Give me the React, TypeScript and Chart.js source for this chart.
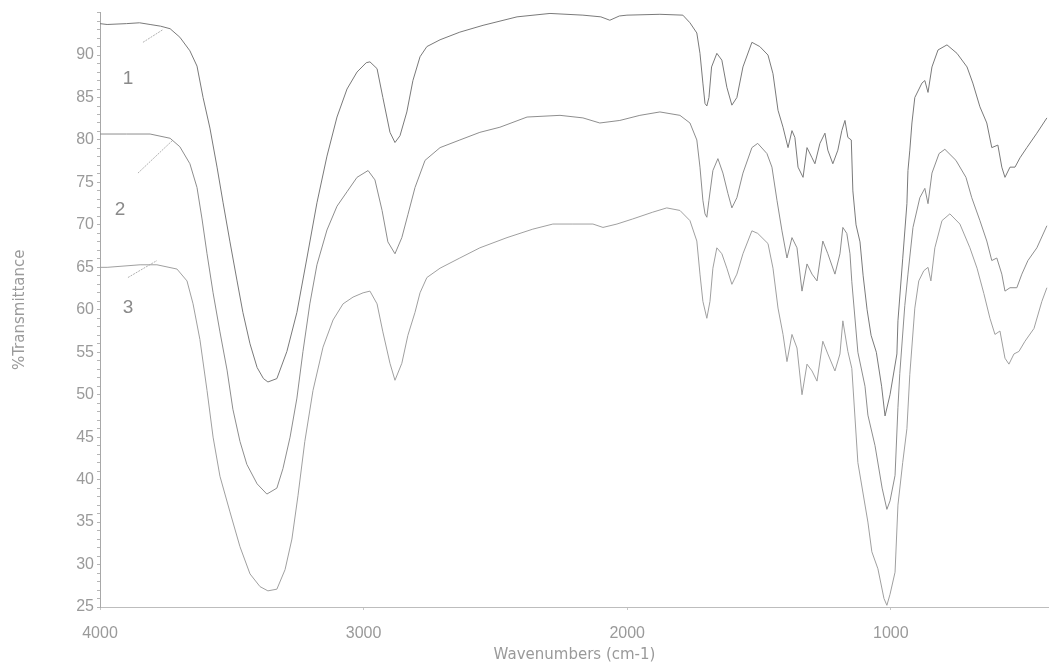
import { useEffect, useRef } from "react";
import { Chart, registerables } from "chart.js";

Chart.register(...registerables);

// ---- Data (wavenumber cm-1, %Transmittance) ----
const wn1 = [4000, 3973, 3900, 3850, 3810, 3770, 3734, 3697, 3659, 3632, 3609, 3583, 3556, 3533, 3507, 3480, 3458, 3431, 3404, 3380, 3363, 3329, 3291, 3253, 3215, 3177, 3139, 3101, 3063, 3025, 2990, 2976, 2949, 2927, 2900, 2881, 2862, 2836, 2813, 2786, 2760, 2710, 2635, 2547, 2418, 2293, 2168, 2100, 2066, 2030, 2001, 1876, 1789, 1762, 1736, 1724, 1713, 1705, 1698, 1690, 1680, 1660, 1641, 1622, 1603, 1584, 1561, 1527, 1497, 1466, 1447, 1428, 1409, 1390, 1375, 1364, 1352, 1333, 1318, 1299, 1288, 1269, 1250, 1239, 1220, 1201, 1186, 1174, 1163, 1150, 1144, 1132, 1117, 1105, 1090, 1075, 1055, 1035, 1022, 1003, 977, 973, 955, 939, 935, 928, 920, 909, 882, 871, 859, 844, 821, 787, 749, 711, 689, 662, 636, 617, 594, 579, 567, 548, 529, 510, 484, 446, 408];
const t1 = [93.7, 93.6, 93.7, 93.8, 93.6, 93.4, 93.1, 92.1, 90.5, 88.7, 85.0, 81.4, 76.8, 72.6, 68.0, 63.4, 59.7, 56.0, 53.2, 51.9, 51.5, 51.9, 55.1, 59.7, 66.1, 72.6, 78.1, 82.7, 86.0, 88.0, 89.1, 89.2, 88.4, 85.0, 80.9, 79.7, 80.5, 83.3, 87.0, 89.8, 91.0, 91.8, 92.7, 93.5, 94.5, 94.9, 94.7, 94.5, 94.1, 94.6, 94.7, 94.8, 94.7, 93.8, 92.6, 90.2, 86.7, 84.3, 84.0, 85.0, 88.6, 90.2, 89.4, 86.2, 84.1, 85.0, 88.6, 91.5, 91.0, 90.0, 87.8, 83.5, 81.5, 79.1, 81.1, 80.3, 76.8, 75.6, 79.1, 77.9, 77.2, 79.6, 80.8, 78.8, 77.2, 78.8, 81.1, 82.3, 80.3, 80.0, 74.0, 70.0, 68.0, 64.0, 60.0, 57.0, 55.0, 51.0, 47.5, 50.0, 54.8, 58.7, 66.0, 72.5, 76.4, 78.8, 82.0, 85.0, 86.7, 87.0, 85.6, 88.6, 90.6, 91.2, 90.2, 88.6, 86.7, 83.9, 82.0, 79.1, 79.4, 76.8, 75.6, 76.8, 76.8, 77.9, 79.1, 80.8, 82.6];

const wn2 = [4000, 3900, 3810, 3734, 3697, 3659, 3632, 3613, 3594, 3571, 3545, 3518, 3496, 3469, 3443, 3404, 3367, 3329, 3306, 3279, 3253, 3230, 3204, 3177, 3139, 3101, 3063, 3025, 2983, 2957, 2930, 2908, 2881, 2855, 2832, 2805, 2767, 2710, 2635, 2559, 2483, 2380, 2255, 2168, 2104, 2028, 1952, 1876, 1800, 1762, 1736, 1724, 1713, 1705, 1698, 1690, 1675, 1656, 1637, 1618, 1603, 1584, 1561, 1527, 1505, 1470, 1451, 1432, 1413, 1394, 1375, 1356, 1337, 1318, 1299, 1280, 1258, 1239, 1212, 1193, 1182, 1167, 1155, 1148, 1125, 1098, 1087, 1060, 1033, 1015, 1003, 984, 973, 966, 947, 935, 916, 890, 871, 859, 844, 817, 795, 753, 715, 693, 662, 636, 617, 598, 579, 567, 548, 522, 503, 480, 446, 408];
const t2 = [80.7, 80.7, 80.7, 80.2, 79.2, 77.2, 74.4, 70.7, 66.6, 62.0, 57.4, 52.9, 48.3, 44.5, 41.8, 39.5, 38.3, 39.0, 41.3, 45.0, 49.6, 55.1, 60.7, 65.3, 69.4, 72.2, 73.9, 75.6, 76.4, 75.3, 71.7, 68.0, 66.6, 68.5, 71.2, 74.4, 77.6, 79.1, 80.0, 80.9, 81.5, 82.7, 82.9, 82.6, 82.0, 82.3, 82.9, 83.3, 82.9, 82.0, 80.0, 76.8, 72.9, 71.3, 70.9, 72.9, 76.4, 77.8, 76.1, 73.7, 72.0, 73.2, 76.1, 79.1, 79.6, 78.4, 76.8, 72.9, 69.3, 66.1, 68.5, 67.3, 62.2, 65.4, 64.2, 63.4, 68.1, 66.6, 64.2, 66.6, 69.7, 69.0, 66.6, 63.3, 55.0, 51.0, 47.6, 44.0, 39.0, 36.5, 37.5, 40.5, 48.5, 52.5, 60.5, 64.2, 69.7, 73.2, 74.3, 72.5, 76.1, 78.4, 78.9, 77.6, 75.6, 73.2, 70.5, 68.1, 65.8, 66.1, 64.2, 62.2, 62.6, 62.6, 64.2, 65.8, 67.3, 69.9];

const wn3 = [4000, 3973, 3848, 3784, 3708, 3670, 3647, 3621, 3594, 3571, 3545, 3507, 3469, 3431, 3393, 3363, 3329, 3298, 3272, 3249, 3223, 3192, 3154, 3116, 3078, 3040, 3002, 2976, 2949, 2927, 2900, 2881, 2855, 2832, 2805, 2786, 2760, 2710, 2635, 2559, 2456, 2358, 2282, 2206, 2130, 2092, 2039, 1979, 1903, 1850, 1800, 1762, 1736, 1724, 1713, 1698, 1686, 1675, 1660, 1641, 1622, 1603, 1584, 1561, 1527, 1505, 1466, 1447, 1428, 1409, 1394, 1375, 1356, 1337, 1318, 1299, 1280, 1258, 1239, 1212, 1193, 1182, 1163, 1148, 1125, 1087, 1072, 1049, 1026, 1015, 1003, 984, 973, 955, 939, 928, 909, 894, 875, 859, 848, 833, 806, 776, 738, 700, 673, 647, 624, 605, 586, 567, 552, 533, 514, 491, 457, 427, 408];
const t3 = [65.0, 65.0, 65.3, 65.3, 64.8, 63.4, 60.7, 56.5, 50.5, 45.0, 40.4, 36.2, 32.1, 28.9, 27.4, 26.9, 27.1, 29.4, 33.0, 38.1, 44.5, 50.5, 55.6, 58.8, 60.7, 61.5, 62.0, 62.2, 60.7, 57.4, 53.7, 51.7, 53.7, 57.0, 59.7, 62.0, 63.8, 64.9, 66.1, 67.3, 68.5, 69.5, 70.1, 70.1, 70.1, 69.7, 70.1, 70.7, 71.5, 72.0, 71.7, 70.5, 68.1, 64.2, 61.0, 59.0, 61.0, 64.9, 67.3, 66.6, 64.9, 63.0, 64.2, 66.6, 69.3, 69.0, 67.8, 64.9, 60.2, 57.1, 53.9, 57.1, 55.5, 50.0, 53.6, 52.8, 51.6, 56.3, 54.8, 52.8, 54.8, 58.7, 55.1, 53.1, 42.0, 35.0, 31.5, 29.5, 26.0, 25.2, 26.5, 29.1, 37.0, 42.0, 46.0, 52.4, 60.2, 63.4, 64.6, 65.0, 63.4, 67.3, 70.5, 71.3, 70.1, 67.3, 64.9, 61.9, 59.0, 57.1, 57.5, 54.3, 53.6, 54.8, 55.1, 56.3, 57.8, 61.0, 62.6];

// curve labels and pointer strokes (data coordinates)
const curveLabels = ["1", "2", "3"];
const labelWn = [3894, 3924, 3894];
const labelT = [87.2, 71.8, 60.2];
const pointerWnStart = [3837, 3856, 3894];
const pointerTStart = [91.5, 76.1, 63.8];
const pointerWnEnd = [3761, 3723, 3784];
const pointerTEnd = [93.0, 80.0, 65.8];

const xTicks = [4000, 3000, 2000, 1000];
const yLabelled = [25, 30, 35, 40, 45, 50, 55, 60, 65, 70, 75, 80, 85, 90];

const seriesColors = ["#7a7a7a", "#8e8e8e", "#a0a0a0"];

function toPts(xs: number[], ys: number[]) {
  return xs.map((x, i) => ({ x, y: ys[i] }));
}

export default function App() {
  const ref = useRef<HTMLCanvasElement | null>(null);

  useEffect(() => {
    if (!ref.current) return;
    const series = [
      [wn1, t1],
      [wn2, t2],
      [wn3, t3],
    ];
    const datasets: any[] = series.map(([xs, ys], i) => ({
      label: "Curve " + (i + 1),
      data: toPts(xs, ys),
      borderColor: seriesColors[i],
      borderWidth: 1,
      pointRadius: 0,
      tension: 0,
      fill: false,
    }));
    pointerWnStart.forEach((_, i) => {
      datasets.push({
        label: "ptr" + i,
        data: [
          { x: pointerWnStart[i], y: pointerTStart[i] },
          { x: pointerWnEnd[i], y: pointerTEnd[i] },
        ],
        borderColor: "#b0b0b0",
        borderWidth: 1,
        pointRadius: 0,
        borderDash: [2, 1],
      });
    });

    const labelPlugin = {
      id: "curveLabels",
      afterDatasetsDraw(chart: any) {
        const { ctx, scales } = chart;
        ctx.save();
        ctx.fillStyle = "#8a8a8a";
        ctx.font = "19px 'Liberation Sans'";
        ctx.textAlign = "center";
        ctx.textBaseline = "middle";
        curveLabels.forEach((t, i) => {
          ctx.fillText(t, scales.x.getPixelForValue(labelWn[i]), scales.y.getPixelForValue(labelT[i]));
        });
        ctx.restore();
      },
    };

    const chart = new Chart(ref.current, {
      type: "line",
      data: { datasets },
      plugins: [labelPlugin],
      options: {
        animation: false,
        responsive: false,
        layout: { padding: { top: 12, left: 0, right: 0, bottom: 0 } },
        plugins: { legend: { display: false }, tooltip: { enabled: false } },
        scales: {
          x: {
            type: "linear",
            min: 400,
            max: 4000,
            reverse: true,
            afterBuildTicks: (scale: any) => {
              scale.ticks = xTicks.map((v) => ({ value: v }));
            },
            afterFit: (scale: any) => {
              scale.height = 58;
            },
            ticks: {
              autoSkip: false,
              maxRotation: 0,
              padding: 14,
              color: "#9a9a9a",
              font: { family: "'Liberation Sans'", size: 16 },
              callback: (v: any) => String(v),
            },
            grid: { drawOnChartArea: false, tickLength: 3, color: "#c8c8c8" },
            border: { display: true, color: "#bdbdbd", dash: [3, 2] },
            title: {
              display: true,
              text: "Wavenumbers (cm-1)",
              color: "#9a9a9a",
              font: { family: "'DejaVu Sans'", size: 15 },
              padding: { top: 0, bottom: 1 },
            },
          },
          y: {
            min: 25,
            max: 95,
            afterFit: (scale: any) => {
              scale.width = 100;
            },
            ticks: {
              stepSize: 1,
              autoSkip: false,
              padding: 3,
              color: "#9a9a9a",
              font: { family: "'Liberation Sans'", size: 16 },
              callback: (v: any) => (yLabelled.includes(Number(v)) ? String(v) : ""),
            },
            grid: { drawOnChartArea: false, tickLength: 3, color: "#b5b5b5" },
            border: { display: true, color: "#a8a8a8", dash: [2, 2] },
            title: {
              display: true,
              text: "%Transmittance",
              color: "#9a9a9a",
              font: { family: "'DejaVu Sans'", size: 15 },
              padding: { top: 11, bottom: 0 },
            },
          },
        },
      },
    });
    return () => chart.destroy();
  }, []);

  return (
    <div style={{ position: "absolute", left: 0, top: 0, width: 1049, height: 665, background: "#fff" }}>
      <canvas ref={ref} width={1049} height={665} style={{ display: "block" }} />
    </div>
  );
}
